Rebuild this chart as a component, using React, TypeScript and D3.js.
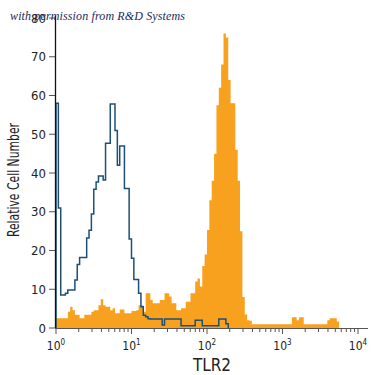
import * as d3 from 'd3';

// histogram channels: 32 per decade, starting at 10^0
const binsPerDecade = 32;

// isotype control (blue outline)
const controlCounts = [
  58, 31, 8.5, 8.5, 9, 9.8, 9.8, 9.8, 12.4, 16.4,
  18.2, 18.2, 18.2, 23.2, 25.2, 29.4, 35.8, 37.7, 39.2, 39.2,
  38.2, 47.7, 47.7, 57.8, 57.8, 51, 42, 47, 47, 36,
  36, 23, 18, 12.5, 12.5, 9, 5.5, 3.3, 2.9, 2.4,
  2.3, 2.3, 2.3, 2.3, 2.3, 0.8, 2.3, 2.3, 2.3, 2.3,
  2.3, 2.3, 2.3, 0.6, 0.6, 0.6, 0.6, 0.6, 0.6, 2.0,
  2.0, 2.0, 0.6, 0.6, 0.6, 0.6, 0.6, 0.6, 0.6, 2.3,
  2.3, 2.3, 1.1,
];

// TLR2 stained (orange filled)
const stainedCounts = [
  2.5, 2.5, 2.5, 2.5, 2.5, 4.2, 5.5, 4.6, 3.4, 3.4,
  2.5, 2.5, 3.4, 3.4, 3.4, 4.2, 4.6, 4.6, 5.9, 7.4,
  5.9, 5.5, 5.5, 4.6, 5.1, 3.8, 3.8, 4.8, 4.8, 3.8,
  3.8, 3.8, 4.4, 4.4, 4.6, 5.9, 5.9, 4.2, 9.0, 9.0,
  7.2, 6.4, 6.4, 6.4, 7.2, 7.2, 9.0, 9.0, 8.1, 6.4,
  6.4, 4.6, 4.6, 5.1, 5.1, 6.8, 6.8, 9.0, 9.0, 12.0,
  12.8, 10.7, 16, 19, 25.3, 33, 38, 45, 57.5, 62,
  68, 76, 75, 64, 58, 58, 46, 38, 25, 8,
  3.5, 2, 1.9, 1, 1, 1, 1, 1, 1, 1,
  1, 1, 1, 1, 1, 1, 1, 1, 1, 1,
  2.8, 2.8, 2.0, 2.8, 2.8, 1, 1, 1, 1, 1,
  1, 1, 1, 1, 1, 2.0, 2.5, 2.5, 2.5, 1.7,
];

const yTicks = [0, 10, 20, 30, 40, 50, 60, 70, 80];
const xDecades = [0, 1, 2, 3, 4];

const labelFont = '"DejaVu Sans Condensed", "DejaVu Sans", sans-serif';

const x = d3.scaleLog().domain([1, 1e4]).range([56, 358]);
const y = d3.scaleLinear().domain([0, 80]).range([328, 18]);

const edge = (i: number) => Math.pow(10, i / binsPerDecade);

const histPoints = (counts: number[]) => {
  const pts: [number, number][] = [[x(edge(0)), y(0)]];
  counts.forEach((c, i) => pts.push([x(edge(i)), y(c)]));
  pts.push([x(edge(counts.length)), y(0)]);
  return pts;
};

export default function App() {
  const stepLine = d3.line().curve(d3.curveStepAfter);
  const stained = stepLine(histPoints(stainedCounts)) + 'Z';
  const control = stepLine(histPoints(controlCounts)) || '';
  const minorTicks = x.ticks().filter(v => !xDecades.includes(Math.round(Math.log10(v) * 1000) / 1000));
  return (
    <svg width={375} height={375} style={{position: 'absolute', left: 0, top: 0, background: '#fff'}}>
      {/* histograms */}
      <path d={stained} fill="#f7a11f" stroke="none" />
      <path d={control} fill="none" stroke="#1f4f76" strokeWidth={1.5} />
      {/* y axis */}
      <line x1={55.5} x2={55.5} y1={y(80) - 2} y2={y(0)} stroke="#111" strokeWidth={1.3} />
      {yTicks.map(t => (
        <g key={t} transform={`translate(0,${y(t)})`}>
          <line x1={49} x2={55} stroke="#555" strokeWidth={1} />
          <text x={46} dy="0.35em" textAnchor="end" fontFamily={labelFont} fontStretch="condensed" fontSize={13} fill="#222">{t}</text>
        </g>
      ))}
      {/* x axis */}
      <line x1={55} x2={368} y1={y(0) + 0.5} y2={y(0) + 0.5} stroke="#555" strokeWidth={1} />
      {minorTicks.map((v, i) => (
        <line key={i} x1={x(v)} x2={x(v)} y1={y(0)} y2={y(0) + 4} stroke="#555" strokeWidth={1} />
      ))}
      {xDecades.map(d => (
        <g key={d} transform={`translate(${x(Math.pow(10, d))},0)`}>
          <line y1={y(0)} y2={y(0) + 6} stroke="#555" strokeWidth={1} />
          <text y={350} textAnchor="middle" fontFamily={labelFont} fontStretch="condensed" fontSize={12} fill="#222">
            10<tspan dy={-5} fontSize={8}>{d}</tspan>
          </text>
        </g>
      ))}
      {/* titles */}
      <text x={212} y={371} textAnchor="middle" fontFamily={labelFont} fontStretch="condensed" fontSize={17} fill="#222">TLR2</text>
      <text transform="translate(19,180) rotate(-90)" textAnchor="middle" fontFamily={labelFont} fontStretch="condensed" fontSize={15} fill="#222" textLength={114} lengthAdjust="spacingAndGlyphs">Relative Cell Number</text>
      <text x={10} y={20} fontFamily='"Liberation Serif", "DejaVu Serif", serif' fontStyle="italic" fontSize={12} fill="#1c2a5c" textLength={175}>with permission from R&amp;D Systems</text>
    </svg>
  );
}
